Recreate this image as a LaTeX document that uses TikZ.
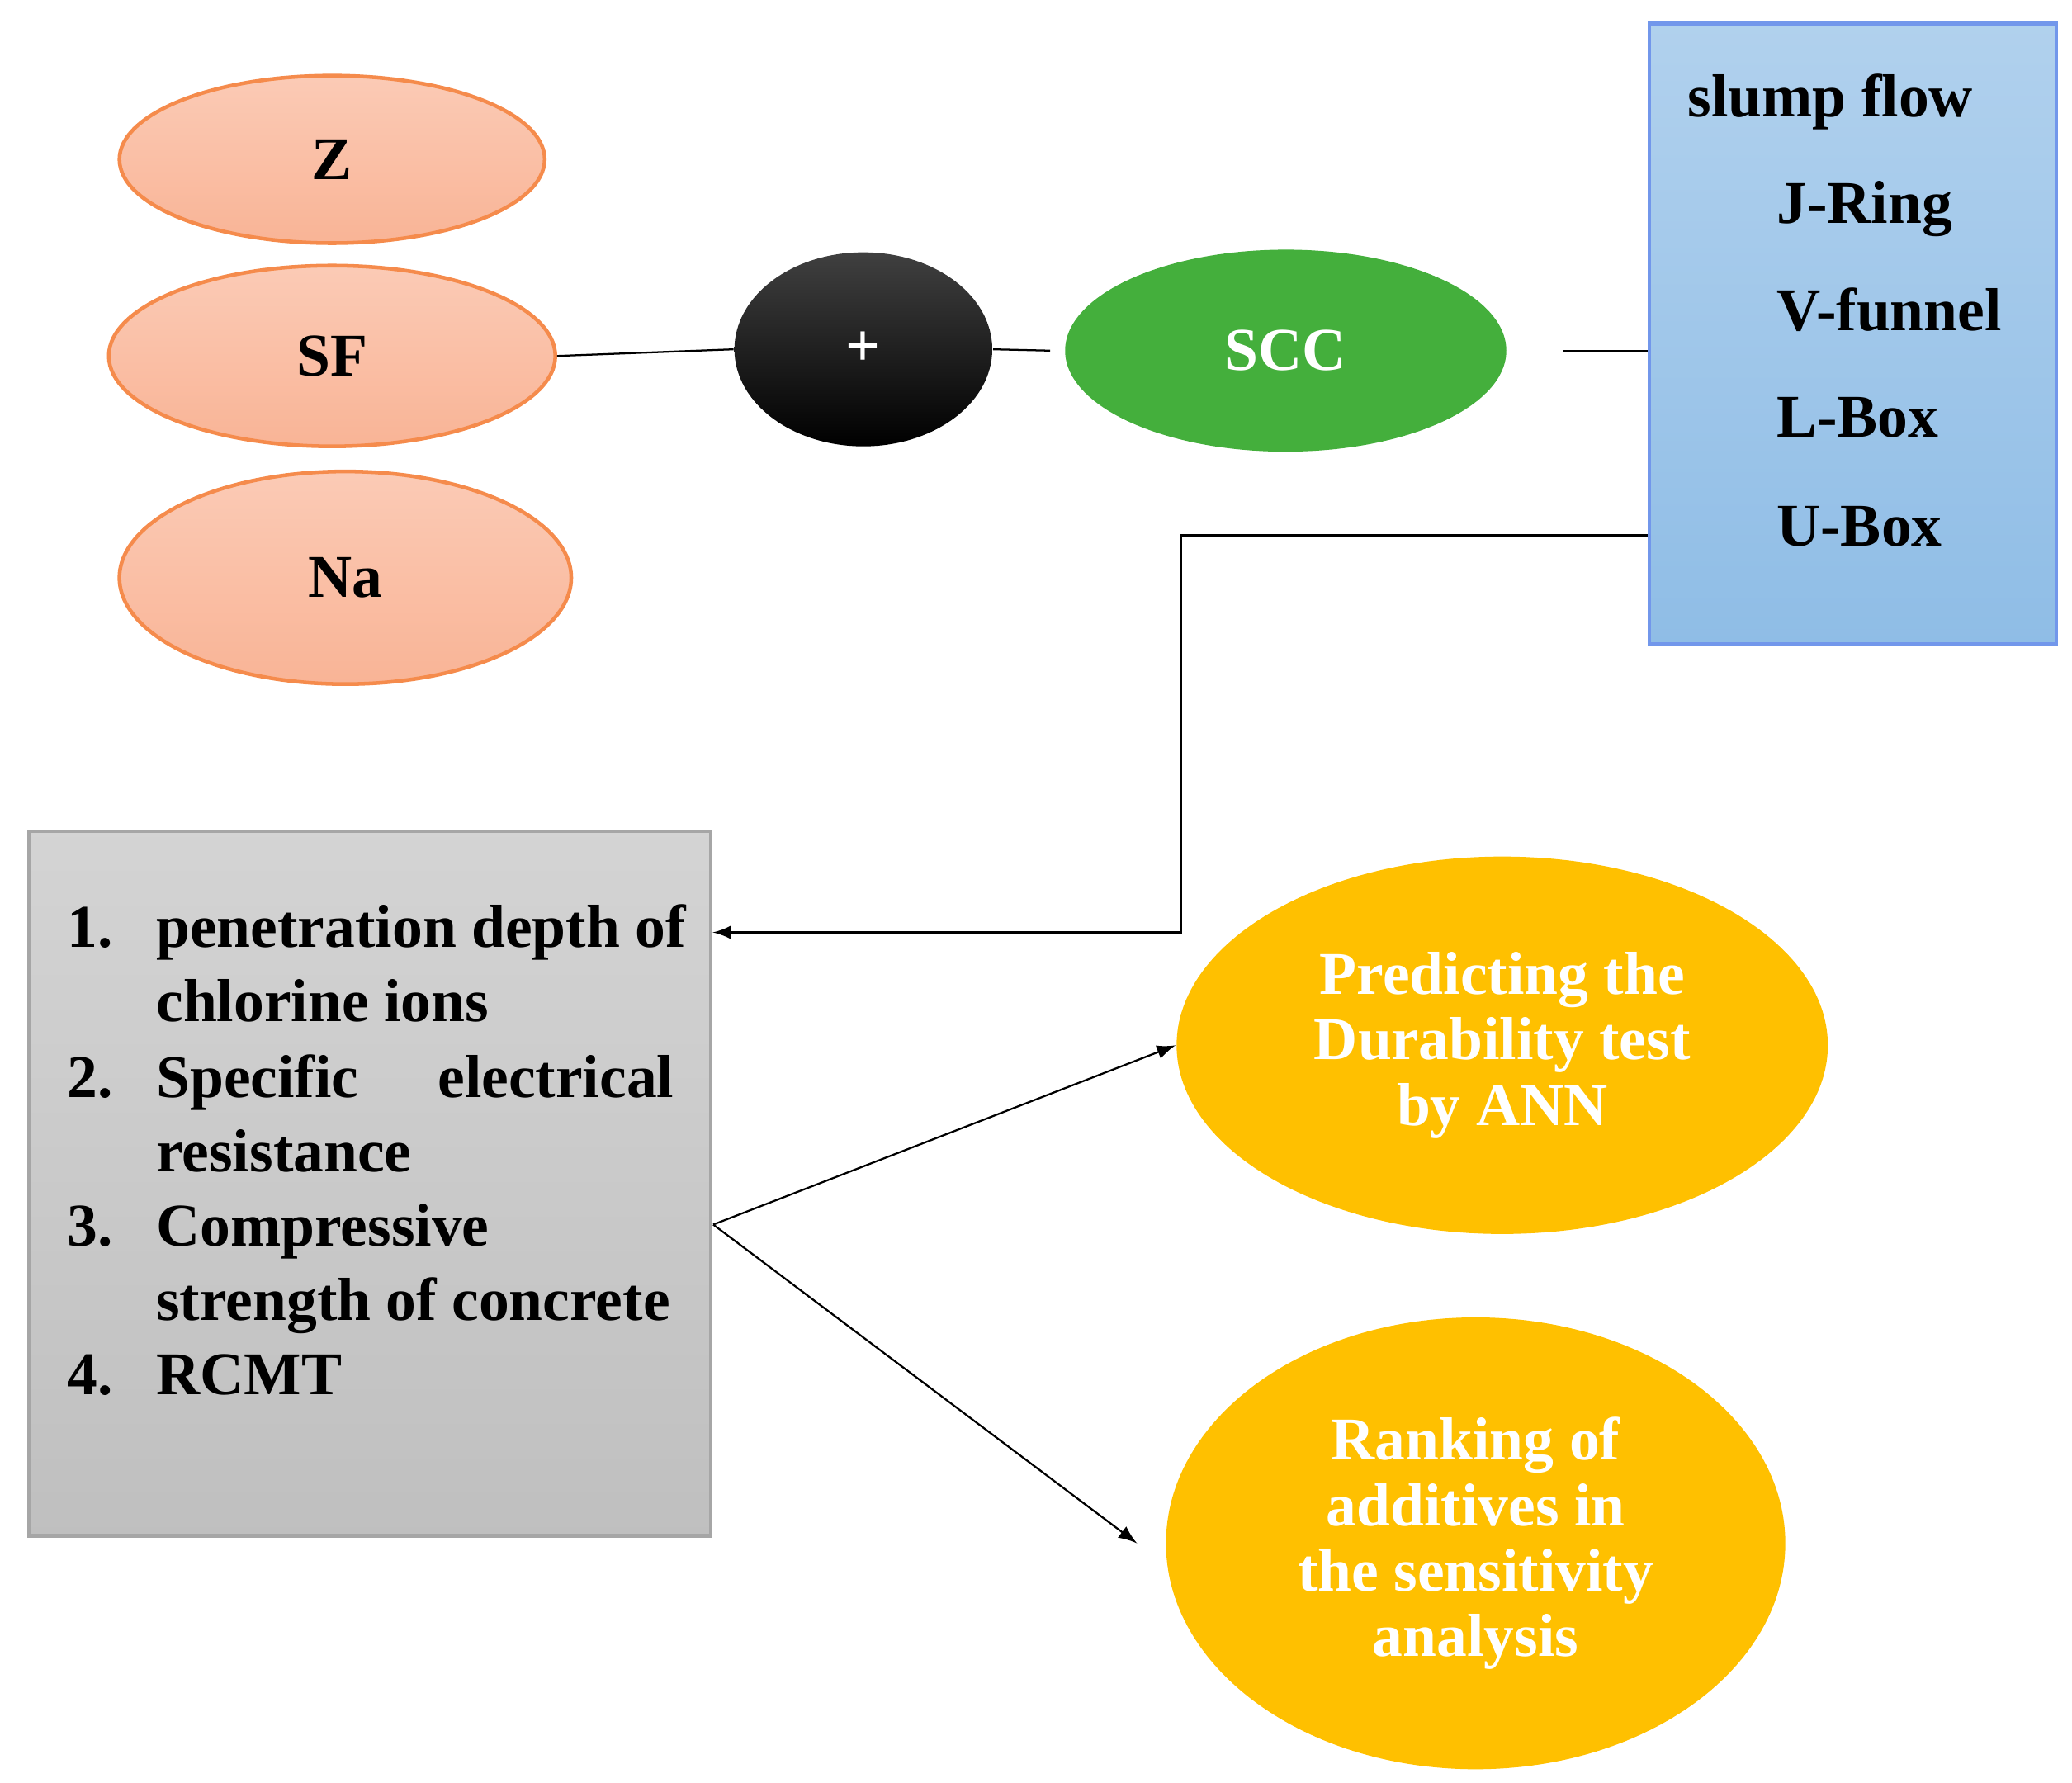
\documentclass[tikz,border=0pt]{standalone}
\usepackage{fontspec}
\setmainfont{Liberation Serif}
\usetikzlibrary{positioning,shapes.geometric}
\definecolor{salmon}{HTML}{F9B496}
\definecolor{salmonline}{HTML}{F58B4C}
\definecolor{sccgreen}{HTML}{44AF3C}
\definecolor{boxblue}{HTML}{8FBDE6}
\definecolor{gold}{HTML}{FFC000}

\begin{document}
\begin{tikzpicture}[x=0.01cm,y=-0.01cm,
	txt/.style={font=\fontsize{13}{16}\selectfont\bfseries},
	agent/.style={ellipse,draw=salmonline,top color=salmon!70,bottom color=salmon,line width=0.8pt,inner sep=0pt,txt},
	result/.style={ellipse,fill=gold,text=white,inner sep=0pt,align=center,txt},
	item/.style={anchor=base west,inner sep=0pt,txt}]
	\useasboundingbox (0,0) rectangle (1560,1342);

	% additives
	\node [agent,minimum width=3.2cm,minimum height=1.26cm] (Z) at (250,120) {Z};
	\node [agent,minimum width=3.36cm,minimum height=1.36cm] (SF) at (250,268) {SF};
	\node [agent,minimum width=3.4cm,minimum height=1.6cm] (Na) at (260,435) {Na};

	\node [ellipse,top color=black!75,bottom color=black,minimum width=1.94cm,minimum height=1.46cm,text=white,inner sep=0pt,txt] (plus) at (650,263) {+};
	\node [ellipse,fill=sccgreen,minimum width=3.32cm,minimum height=1.52cm,text=white,inner sep=0pt,txt] (SCC) at (968,264) {SCC};

	% fresh tests
	\node [draw=boxblue!80!blue,top color=boxblue!70,bottom color=boxblue,line width=0.8pt,minimum width=3.06cm,minimum height=4.67cm,inner sep=0pt] (fresh) at (1395,251.5) {};
	\node [item] at (1270,88) {slump flow};
	\node [item] at (1337,168) {J-Ring};
	\node [item] at (1337,249) {V-funnel};
	\node [item] at (1337,329) {L-Box};
	\node [item] at (1337,411) {U-Box};

	% durability tests
	\node [draw=black!35,top color=black!17,bottom color=black!25,line width=0.8pt,minimum width=5.13cm,minimum height=5.3cm,inner sep=0pt] (durab) at (278.5,891) {};
	\foreach \n/\y in {1/713,2/826,3/938,4/1050}
		\node [item] at (50,\y) {\n.};
	\node [item] at (117,713) {penetration depth of};
	\node [item] at (117,769) {chlorine ions};
	\node [item] at (117,826) {Specific};
	\node [item,anchor=base east] at (508,826) {electrical};
	\node [item] at (117,882) {resistance};
	\node [item] at (117,938) {Compressive};
	\node [item] at (117,994) {strength of concrete};
	\node [item] at (117,1050) {RCMT};

	% outputs
	\node [result,minimum width=4.9cm,minimum height=2.84cm] (ANN) at (1131,787) {Predicting the\\[-2pt]Durability test\\[-2pt]by ANN};
	\node [result,minimum width=4.66cm,minimum height=3.4cm] (rank) at (1111,1162) {Ranking of\\[-2pt]additives in\\[-2pt]the sensitivity\\[-2pt]analysis};

	% connectors
	\coordinate (split) at (537,922);
	\draw (SF.east) -- (plus.west);
	\draw (plus.east) -- ([xshift=-3]SCC.west);
	\draw ([xshift=12]SCC.east) -- (fresh.west |- SCC.east);
	\draw [-latex] (fresh.west |- 0,403) -- (889,403) -- (889,702) -- (durab.east |- 0,702);
	\draw [-latex] (split) -- (ANN.west);
	\draw [-latex] (split) -- ([xshift=-6]rank.west);
\end{tikzpicture}
\end{document}
